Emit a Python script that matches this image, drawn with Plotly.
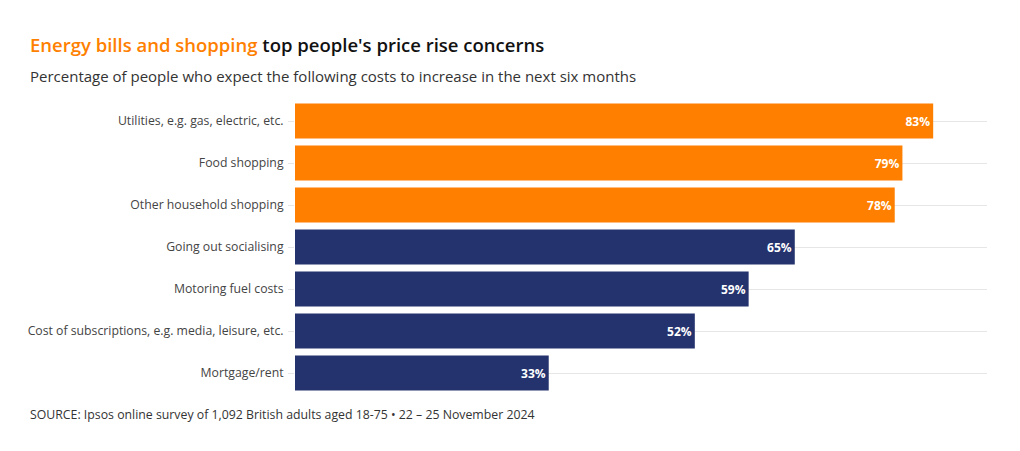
import plotly.graph_objects as go

categories = ["Utilities, e.g. gas, electric, etc.", "Food shopping", "Other household shopping",
              "Going out socialising", "Motoring fuel costs",
              "Cost of subscriptions, e.g. media, leisure, etc.", "Mortgage/rent"]
values = [83, 79, 78, 65, 59, 52, 33]
highlight = [True, True, True, False, False, False, False]

ORANGE = "#FF7F00"
NAVY = "#24336E"
colors = [ORANGE if h else NAVY for h in highlight]
FONT = "Open Sans"

# page body has an 8px margin; figure pixel coords = window coords - 8
OFF = 8
W, H = 1020, 451
l, r, t, b = 295 - OFF, 1020 - 987 + OFF, 100 - OFF, 451 - 394 + OFF
pw, ph = W - l - r, H - t - b

def px(x):
    return (x - OFF - l) / pw

def py(y):
    return (H - b - (y - OFF)) / ph

fig = go.Figure(go.Bar(
    x=values, y=categories, orientation="h",
    marker=dict(color=colors, line=dict(width=0)),
    text=[f"{v}%" for v in values], textposition="inside", insidetextanchor="end",
    textfont=dict(color="white", size=12, family=FONT, weight="bold"),
    cliponaxis=False, hoverinfo="skip",
))

fig.update_layout(
    width=W, height=H,
    margin=dict(l=l, r=r, t=t, b=b),
    paper_bgcolor="white", plot_bgcolor="white",
    bargap=0.17, showlegend=False,
    font=dict(family=FONT, color="#444"),
    xaxis=dict(range=[0, 90], visible=False, fixedrange=True),
    yaxis=dict(autorange="reversed", showgrid=True, gridcolor="#E6E6E6", gridwidth=1,
               ticks="outside", ticklen=6, tickcolor="#E6E6E6", ticklabelstandoff=2,
               tickfont=dict(size=12.25, color="#444", family=FONT), showline=False, zeroline=False),
    annotations=[
        dict(text=f"<span style='color:{ORANGE}'>Energy bills and shopping</span> top people's price rise concerns",
             x=px(28), y=py(44), xref="paper", yref="paper", showarrow=False, xanchor="left", yanchor="middle",
             font=dict(size=18.5, color="#111", family=FONT, weight=600)),
        dict(text="Percentage of people who expect the following costs to increase in the next six months",
             x=px(28), y=py(76), xref="paper", yref="paper", showarrow=False, xanchor="left", yanchor="middle",
             font=dict(size=15, color="#333", family=FONT)),
        dict(text="SOURCE: Ipsos online survey of 1,092 British adults aged 18-75 • 22 – 25 November 2024",
             x=px(28), y=py(414), xref="paper", yref="paper", showarrow=False, xanchor="left", yanchor="middle",
             font=dict(size=12.3, color="#333", family=FONT)),
    ],
)

fig.write_html("out.html")
